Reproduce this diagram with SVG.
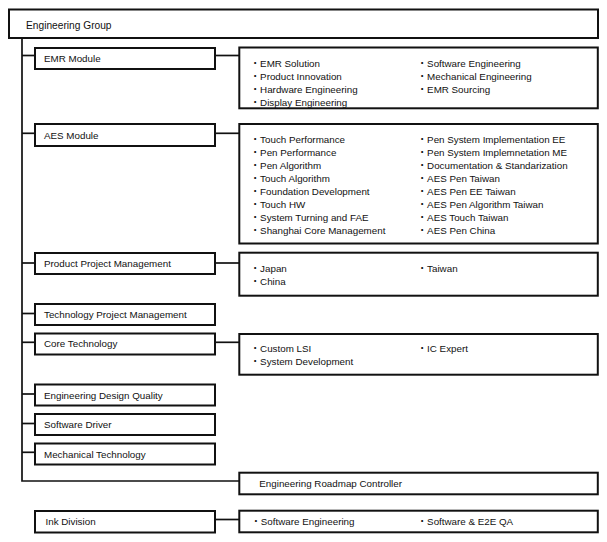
<svg xmlns="http://www.w3.org/2000/svg" width="607" height="542" viewBox="0 0 607 542">
<style>
.box{fill:#fff;stroke:#111;stroke-width:2}
.ln{fill:none;stroke:#111;stroke-width:1.7}
text{font-family:"Liberation Sans","Noto Sans CJK JP",Arial,sans-serif;font-size:9.8px;fill:#111}
.title{font-size:10.2px}
</style>
<rect width="607" height="542" fill="#fff"/>
<g id="connectors">
<polyline class="ln" points="22,38 22,481 239,481"/>
<line class="ln" x1="22" y1="55.5" x2="35" y2="55.5"/>
<line class="ln" x1="215" y1="55.5" x2="239" y2="55.5"/>
<line class="ln" x1="22" y1="133.3" x2="35" y2="133.3"/>
<line class="ln" x1="215" y1="133.3" x2="239" y2="133.3"/>
<line class="ln" x1="22" y1="263" x2="35" y2="263"/>
<line class="ln" x1="215" y1="263" x2="239" y2="263"/>
<line class="ln" x1="22" y1="313.5" x2="35" y2="313.5"/>
<line class="ln" x1="22" y1="342.3" x2="35" y2="342.3"/>
<line class="ln" x1="215" y1="342.3" x2="239" y2="342.3"/>
<line class="ln" x1="22" y1="394" x2="35" y2="394"/>
<line class="ln" x1="22" y1="423.5" x2="35" y2="423.5"/>
<line class="ln" x1="22" y1="452.3" x2="35" y2="452.3"/>
<line class="ln" x1="215" y1="519.5" x2="239" y2="519.5"/>
</g>
<g id="engineering-group">
<rect class="box" x="9" y="9.5" width="589" height="28.5"/>
<text class="title" x="26" y="28.5">Engineering Group</text>
</g>
<g id="emr-module">
<rect class="box" x="35" y="48" width="180" height="21"/>
<text x="44" y="62.3">EMR Module</text>
</g>
<g id="emr-details">
<rect class="box" x="239.3" y="47.5" width="358.5" height="60.8"/>
<text x="250.3" y="66.5">・EMR Solution</text>
<text x="250.3" y="79.5">・Product Innovation</text>
<text x="250.3" y="92.5">・Hardware Engineering</text>
<text x="250.3" y="105.5">・Display Engineering</text>
<text x="417.3" y="66.5">・Software Engineering</text>
<text x="417.3" y="79.5">・Mechanical Engineering</text>
<text x="417.3" y="92.5">・EMR Sourcing</text>
</g>
<g id="aes-module">
<rect class="box" x="35" y="124" width="180" height="22"/>
<text x="44" y="138.6">AES Module</text>
</g>
<g id="aes-details">
<rect class="box" x="239.3" y="124" width="358.5" height="119.5"/>
<text x="250.3" y="143">・Touch Performance</text>
<text x="250.3" y="156">・Pen Performance</text>
<text x="250.3" y="169">・Pen Algorithm</text>
<text x="250.3" y="182">・Touch Algorithm</text>
<text x="250.3" y="195">・Foundation Development</text>
<text x="250.3" y="208">・Touch HW</text>
<text x="250.3" y="221">・System Turning and FAE</text>
<text x="250.3" y="234">・Shanghai Core Management</text>
<text x="417.3" y="143">・Pen System Implementation EE</text>
<text x="417.3" y="156">・Pen System Implemnetation ME</text>
<text x="417.3" y="169">・Documentation &amp; Standarization</text>
<text x="417.3" y="182">・AES Pen Taiwan</text>
<text x="417.3" y="195">・AES Pen EE Taiwan</text>
<text x="417.3" y="208">・AES Pen Algorithm Taiwan</text>
<text x="417.3" y="221">・AES Touch Taiwan</text>
<text x="417.3" y="234">・AES Pen China</text>
</g>
<g id="product-project-management">
<rect class="box" x="35" y="253" width="180" height="21"/>
<text x="44" y="267">Product Project Management</text>
</g>
<g id="ppm-details">
<rect class="box" x="239.3" y="252.7" width="358.5" height="43"/>
<text x="250.3" y="272">・Japan</text>
<text x="250.3" y="285">・China</text>
<text x="417.3" y="272">・Taiwan</text>
</g>
<g id="technology-project-management">
<rect class="box" x="35" y="304" width="180" height="21"/>
<text x="44" y="318">Technology Project Management</text>
</g>
<g id="core-technology">
<rect class="box" x="35" y="333.5" width="180" height="21"/>
<text x="44" y="347.3">Core Technology</text>
</g>
<g id="core-details">
<rect class="box" x="239.3" y="334" width="358.5" height="40.7"/>
<text x="250.3" y="352">・Custom LSI</text>
<text x="250.3" y="364.6">・System Development</text>
<text x="417.3" y="352">・IC Expert</text>
</g>
<g id="engineering-design-quality">
<rect class="box" x="35" y="384.5" width="180" height="21"/>
<text x="44" y="398.6">Engineering Design Quality</text>
</g>
<g id="software-driver">
<rect class="box" x="35" y="414" width="180" height="21"/>
<text x="44" y="428.3">Software Driver</text>
</g>
<g id="mechanical-technology">
<rect class="box" x="35" y="443.5" width="180" height="21"/>
<text x="44" y="457.6">Mechanical Technology</text>
</g>
<g id="engineering-roadmap-controller">
<rect class="box" x="239.3" y="472.7" width="358.5" height="21.6"/>
<text x="259.3" y="487">Engineering Roadmap Controller</text>
</g>
<g id="ink-division">
<rect class="box" x="35" y="511" width="180" height="21.5"/>
<text x="45.5" y="525.3">Ink Division</text>
</g>
<g id="ink-details">
<rect class="box" x="239.3" y="510.7" width="358.5" height="21.6"/>
<text x="251" y="525">・Software Engineering</text>
<text x="417.3" y="525">・Software &amp; E2E QA</text>
</g>
</svg>
